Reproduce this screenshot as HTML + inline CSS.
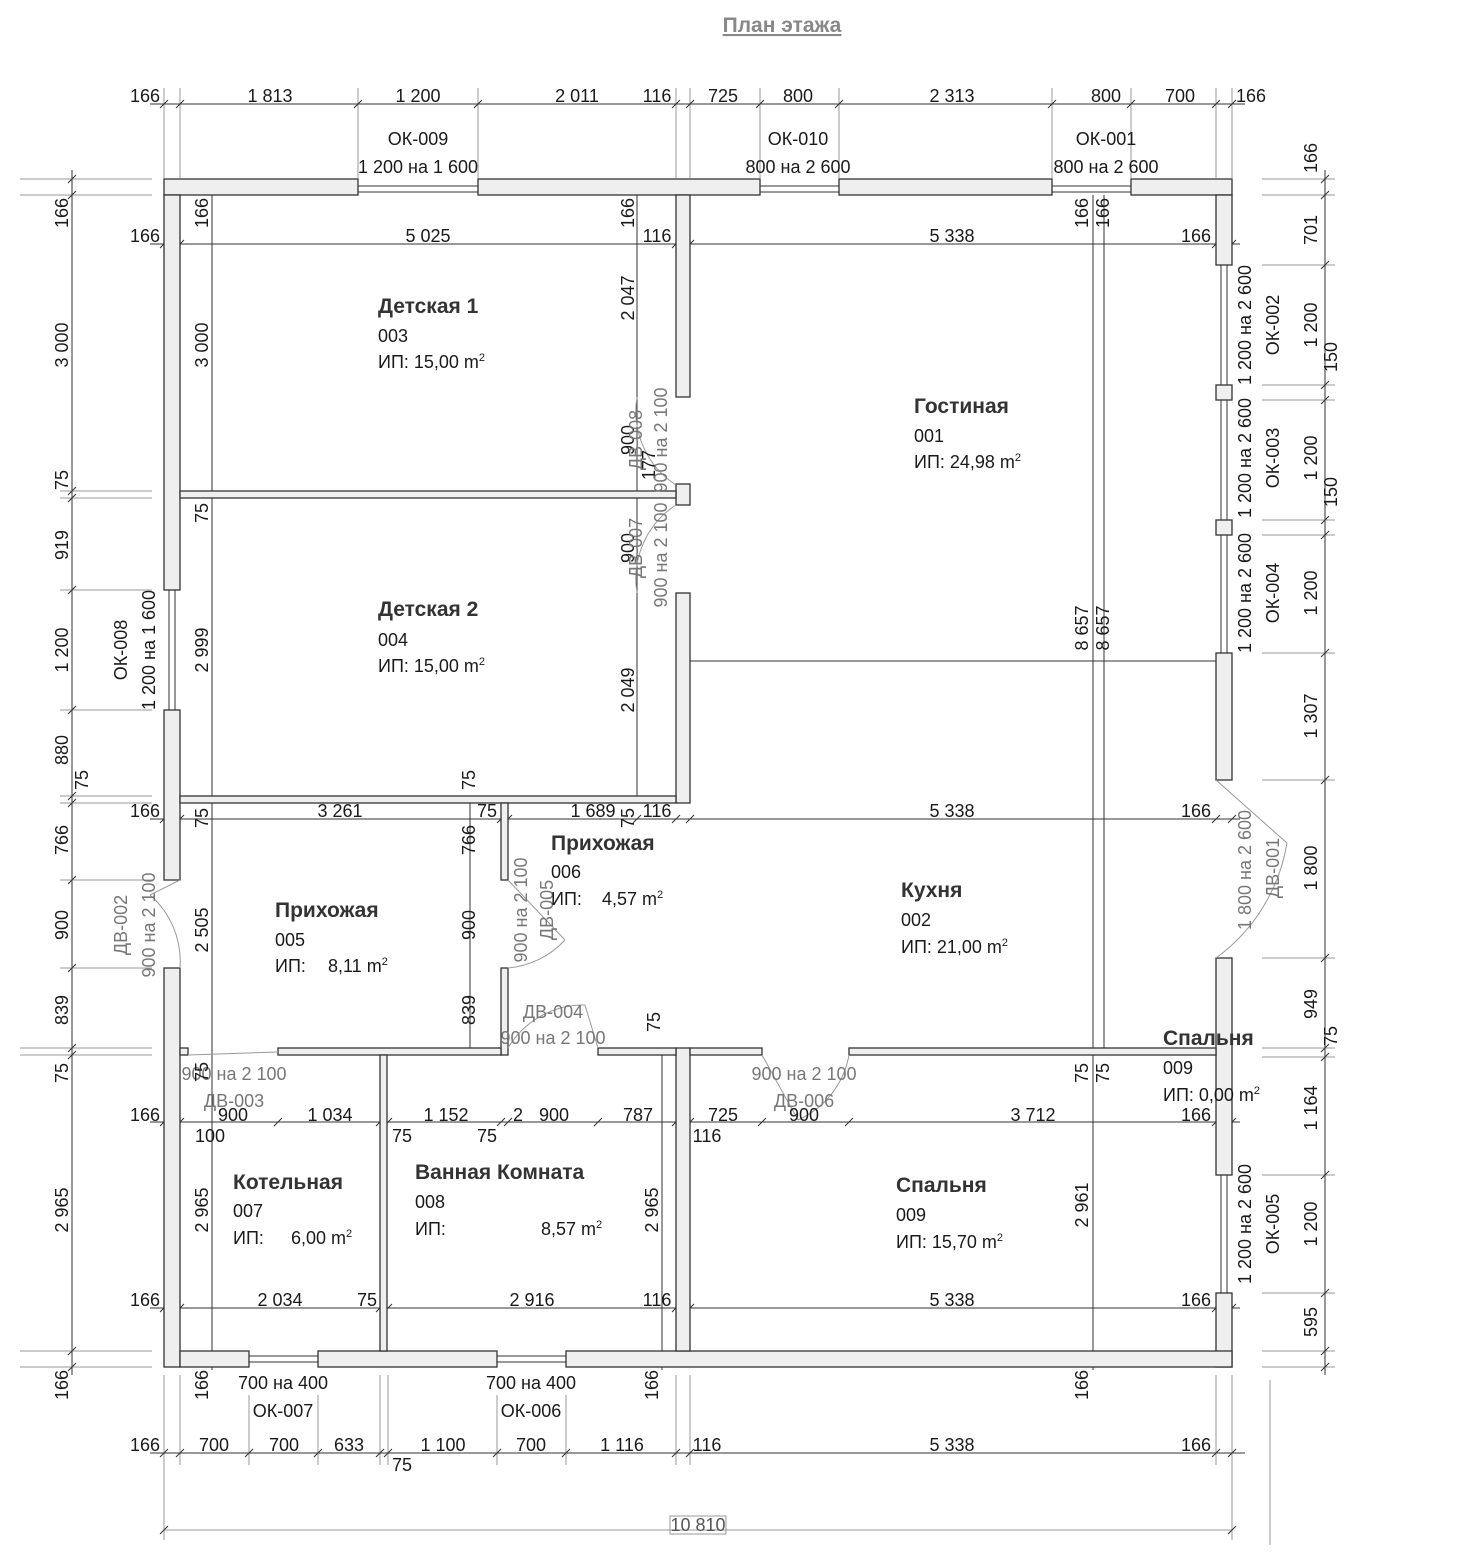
<!DOCTYPE html>
<html><head><meta charset="utf-8"><style>
html,body{margin:0;padding:0;background:#fff;}
svg{display:block;}
text{font-family:"Liberation Sans",sans-serif;fill:#1a1a1a;font-size:18px;}
.b{font-weight:bold;font-size:21px;fill:#333;}
.g{fill:#777;}
.m{text-anchor:middle;}
.w{fill:#efefef;stroke:#333;stroke-width:1.3;}
.l{stroke:#333;stroke-width:1;fill:none;}
.lg{stroke:#999;stroke-width:1;fill:none;}
.t{stroke:#333;stroke-width:1;}
</style></head><body>
<svg width="1462" height="1552" viewBox="0 0 1462 1552" xmlns="http://www.w3.org/2000/svg">
<text x="782" y="32" class="m" style="font-weight:bold;font-size:21px;fill:#888;text-decoration:underline">План этажа</text>

<g class="l">
<line x1="150" y1="104" x2="1245" y2="104"/>
<line x1="150" y1="244" x2="1240" y2="244"/>
<line x1="150" y1="819" x2="1240" y2="819"/>
<line x1="150" y1="1122" x2="1240" y2="1122"/>
<line x1="150" y1="1308" x2="1240" y2="1308"/>
<line x1="150" y1="1453" x2="1245" y2="1453"/>
<line x1="72" y1="170" x2="72" y2="1375"/>
<line x1="1325" y1="170" x2="1325" y2="1375"/>
<line x1="212" y1="195" x2="212" y2="1370"/>
<line x1="637" y1="195" x2="637" y2="796"/>
<line x1="470" y1="803" x2="470" y2="1048"/>
<line x1="662" y1="1055" x2="662" y2="1370"/>
<line x1="1093" y1="195" x2="1093" y2="1370"/>
<line x1="1104" y1="195" x2="1104" y2="1048"/>
<line x1="690" y1="661" x2="1216" y2="661"/>
</g>
<g class="lg">
<line x1="164" y1="88" x2="164" y2="178"/><line x1="180" y1="88" x2="180" y2="178"/>
<line x1="358" y1="88" x2="358" y2="178"/><line x1="478" y1="88" x2="478" y2="178"/>
<line x1="676" y1="88" x2="676" y2="178"/><line x1="690" y1="88" x2="690" y2="178"/>
<line x1="760" y1="88" x2="760" y2="178"/><line x1="839" y1="88" x2="839" y2="178"/>
<line x1="1052" y1="88" x2="1052" y2="178"/><line x1="1131" y1="88" x2="1131" y2="178"/>
<line x1="1216" y1="88" x2="1216" y2="178"/><line x1="1232" y1="88" x2="1232" y2="178"/>
<line x1="20" y1="179" x2="152" y2="179"/><line x1="20" y1="195" x2="152" y2="195"/>
<line x1="60" y1="491" x2="152" y2="491"/><line x1="60" y1="498" x2="152" y2="498"/>
<line x1="60" y1="590" x2="152" y2="590"/><line x1="60" y1="710" x2="152" y2="710"/>
<line x1="60" y1="796" x2="152" y2="796"/><line x1="60" y1="803" x2="152" y2="803"/>
<line x1="60" y1="880" x2="152" y2="880"/><line x1="60" y1="968" x2="152" y2="968"/>
<line x1="20" y1="1048" x2="152" y2="1048"/><line x1="20" y1="1055" x2="152" y2="1055"/>
<line x1="20" y1="1351" x2="152" y2="1351"/><line x1="20" y1="1367" x2="152" y2="1367"/>
<line x1="1262" y1="179" x2="1335" y2="179"/><line x1="1262" y1="195" x2="1335" y2="195"/>
<line x1="1262" y1="265" x2="1335" y2="265"/><line x1="1262" y1="385" x2="1335" y2="385"/>
<line x1="1262" y1="400" x2="1335" y2="400"/><line x1="1262" y1="520" x2="1335" y2="520"/>
<line x1="1262" y1="535" x2="1335" y2="535"/><line x1="1262" y1="653" x2="1335" y2="653"/>
<line x1="1262" y1="780" x2="1335" y2="780"/><line x1="1262" y1="958" x2="1335" y2="958"/>
<line x1="1262" y1="1048" x2="1335" y2="1048"/><line x1="1262" y1="1057" x2="1335" y2="1057"/>
<line x1="1262" y1="1175" x2="1335" y2="1175"/><line x1="1262" y1="1293" x2="1335" y2="1293"/>
<line x1="1262" y1="1351" x2="1335" y2="1351"/><line x1="1262" y1="1367" x2="1335" y2="1367"/>
<line x1="164" y1="1375" x2="164" y2="1540"/><line x1="180" y1="1375" x2="180" y2="1465"/>
<line x1="249" y1="1395" x2="249" y2="1465"/><line x1="318" y1="1395" x2="318" y2="1465"/>
<line x1="380" y1="1375" x2="380" y2="1465"/><line x1="388" y1="1375" x2="388" y2="1465"/>
<line x1="497" y1="1395" x2="497" y2="1465"/><line x1="566" y1="1395" x2="566" y2="1465"/>
<line x1="676" y1="1375" x2="676" y2="1465"/><line x1="690" y1="1375" x2="690" y2="1465"/>
<line x1="1216" y1="1375" x2="1216" y2="1465"/><line x1="1232" y1="1375" x2="1232" y2="1540"/>
<line x1="164" y1="1530" x2="1232" y2="1530"/>
<line x1="1270" y1="1380" x2="1270" y2="1545"/>
</g>

<g class="t">
<path d="M160 108l8-8M176 108l8-8M354 108l8-8M474 108l8-8M672 108l8-8M686 108l8-8M756 108l8-8M835 108l8-8M1048 108l8-8M1127 108l8-8M1212 108l8-8M1228 108l8-8"/>
<path d="M160 1457l8-8M176 1457l8-8M245 1457l8-8M314 1457l8-8M376 1457l8-8M384 1457l8-8M493 1457l8-8M562 1457l8-8M672 1457l8-8M686 1457l8-8M1212 1457l8-8M1228 1457l8-8"/>
<path d="M68 183l8-8M68 199l8-8M68 495l8-8M68 502l8-8M68 594l8-8M68 714l8-8M68 800l8-8M68 807l8-8M68 884l8-8M68 972l8-8M68 1052l8-8M68 1059l8-8M68 1355l8-8M68 1371l8-8"/>
<path d="M1321 183l8-8M1321 199l8-8M1321 269l8-8M1321 389l8-8M1321 404l8-8M1321 524l8-8M1321 539l8-8M1321 657l8-8M1321 784l8-8M1321 962l8-8M1321 1052l8-8M1321 1061l8-8M1321 1179l8-8M1321 1297l8-8M1321 1355l8-8M1321 1371l8-8"/>
<path d="M160 248l8-8M176 248l8-8M672 248l8-8M686 248l8-8M1212 248l8-8M1228 248l8-8"/>
<path d="M160 823l8-8M176 823l8-8M497 823l8-8M504 823l8-8M633 823l8-8M672 823l8-8M686 823l8-8M1212 823l8-8M1228 823l8-8"/>
<path d="M160 1126l8-8M176 1126l8-8M274 1126l8-8M376 1126l8-8M384 1126l8-8M497 1126l8-8M504 1126l8-8M594 1126l8-8M672 1126l8-8M686 1126l8-8M758 1126l8-8M845 1126l8-8M1212 1126l8-8M1228 1126l8-8"/>
<path d="M160 1312l8-8M176 1312l8-8M376 1312l8-8M384 1312l8-8M672 1312l8-8M686 1312l8-8M1212 1312l8-8M1228 1312l8-8"/>
<path d="M160 1534l8-8M1228 1534l8-8"/>
</g>

<g class="w">
<rect x="164" y="179" width="194" height="16"/><rect x="478" y="179" width="282" height="16"/>
<rect x="839" y="179" width="213" height="16"/><rect x="1131" y="179" width="101" height="16"/>
<rect x="164" y="195" width="16" height="395"/><rect x="164" y="710" width="16" height="170"/><rect x="164" y="968" width="16" height="399"/>
<rect x="1216" y="195" width="16" height="70"/><rect x="1216" y="385" width="16" height="15"/><rect x="1216" y="520" width="16" height="15"/>
<rect x="1216" y="653" width="16" height="127"/><rect x="1216" y="958" width="16" height="217"/><rect x="1216" y="1293" width="16" height="74"/>
<rect x="180" y="1351" width="69" height="16"/><rect x="318" y="1351" width="179" height="16"/><rect x="566" y="1351" width="666" height="16"/>
<rect x="676" y="195" width="14" height="202"/><rect x="676" y="484" width="14" height="21"/><rect x="676" y="593" width="14" height="210"/><rect x="676" y="1048" width="14" height="303"/>
<rect x="180" y="491" width="496" height="7"/><rect x="180" y="796" width="496" height="7"/>
<rect x="501" y="803" width="7" height="77"/><rect x="501" y="968" width="7" height="87"/>
<rect x="180" y="1048" width="8" height="7"/><rect x="278" y="1048" width="223" height="7"/><rect x="598" y="1048" width="78" height="7"/>
<rect x="690" y="1048" width="72" height="7"/><rect x="849" y="1048" width="367" height="7"/>
<rect x="380" y="1055" width="7" height="296"/>
</g>
<g class="l" stroke="#555">
<rect x="358" y="186" width="120" height="6"/><rect x="760" y="186" width="79" height="6"/><rect x="1052" y="186" width="79" height="6"/>
<rect x="169" y="590" width="6" height="120"/>
<rect x="1221" y="265" width="6" height="120"/><rect x="1221" y="400" width="6" height="120"/><rect x="1221" y="535" width="6" height="118"/><rect x="1221" y="1175" width="6" height="118"/>
<rect x="249" y="1356" width="69" height="6"/><rect x="497" y="1356" width="69" height="6"/>
</g>
<g class="lg">
<path d="M180 880L150 895M180 968 A88 88 0 0 0 150 895"/>
<path d="M1216 780L1287 843M1216 958 A178 178 0 0 0 1287 843"/>
<path d="M508 880L565 940M508 968 A88 88 0 0 0 565 940"/>
<path d="M598 1048L585 1005M508 1048 A88 88 0 0 1 585 1005"/>
<path d="M762 1055L798 1120M849 1055 A88 88 0 0 1 798 1120"/>
<path d="M188 1055L278 1052"/>
<path d="M637 397 A88 88 0 0 0 676 485M637 593 A88 88 0 0 1 676 505"/>
</g>

<g class="m">
<text x="145" y="102">166</text><text x="270" y="102">1 813</text><text x="418" y="102">1 200</text><text x="577" y="102">2 011</text>
<text x="657" y="102">116</text><text x="723" y="102">725</text><text x="798" y="102">800</text><text x="952" y="102">2 313</text>
<text x="1106" y="102">800</text><text x="1180" y="102">700</text><text x="1251" y="102">166</text>
<text x="418" y="145">ОК-009</text><text x="418" y="173">1 200 на 1 600</text>
<text x="798" y="145">ОК-010</text><text x="798" y="173">800 на 2 600</text>
<text x="1106" y="145">ОК-001</text><text x="1106" y="173">800 на 2 600</text>
<text x="145" y="242">166</text><text x="428" y="242">5 025</text><text x="657" y="242">116</text><text x="952" y="242">5 338</text><text x="1196" y="242">166</text>
<text x="145" y="817">166</text><text x="340" y="817">3 261</text><text x="487" y="817">75</text><text x="593" y="817">1 689</text><text x="657" y="817">116</text><text x="952" y="817">5 338</text><text x="1196" y="817">166</text>
<text x="145" y="1121">166</text><text x="233" y="1121">900</text><text x="330" y="1121">1 034</text><text x="446" y="1121">1 152</text><text x="518" y="1121">2</text><text x="554" y="1121">900</text><text x="638" y="1121">787</text>
<text x="723" y="1121">725</text><text x="804" y="1121">900</text><text x="1033" y="1121">3 712</text><text x="1196" y="1121">166</text>
<text x="210" y="1142">100</text><text x="402" y="1142">75</text><text x="487" y="1142">75</text><text x="707" y="1142">116</text>
<text x="145" y="1306">166</text><text x="280" y="1306">2 034</text><text x="367" y="1306">75</text><text x="532" y="1306">2 916</text><text x="657" y="1306">116</text><text x="952" y="1306">5 338</text><text x="1196" y="1306">166</text>
<text x="145" y="1451">166</text><text x="214" y="1451">700</text><text x="284" y="1451">700</text><text x="349" y="1451">633</text><text x="443" y="1451">1 100</text><text x="531" y="1451">700</text><text x="622" y="1451">1 116</text><text x="707" y="1451">116</text><text x="952" y="1451">5 338</text><text x="1196" y="1451">166</text>
<text x="402" y="1471">75</text>
<text x="283" y="1389">700 на 400</text><text x="283" y="1417">ОК-007</text><text x="531" y="1389">700 на 400</text><text x="531" y="1417">ОК-006</text>
<text x="698" y="1531" style="fill:#555">10 810</text>
<text class="g" x="234" y="1080">900 на 2 100</text><text class="g" x="234" y="1107">ДВ-003</text>
<text class="g" x="804" y="1080">900 на 2 100</text><text class="g" x="804" y="1107">ДВ-006</text>
<text class="g" x="553" y="1018">ДВ-004</text><text class="g" x="553" y="1044">900 на 2 100</text>
</g>
<rect x="670" y="1516" width="56" height="18" fill="none" stroke="#999"/>

<g class="m" dominant-baseline="middle">
<text transform="translate(63,213) rotate(-90)">166</text>
<text transform="translate(63,345) rotate(-90)">3 000</text>
<text transform="translate(63,480) rotate(-90)">75</text>
<text transform="translate(63,545) rotate(-90)">919</text>
<text transform="translate(63,650) rotate(-90)">1 200</text>
<text transform="translate(63,750) rotate(-90)">880</text>
<text transform="translate(83,780) rotate(-90)">75</text>
<text transform="translate(63,840) rotate(-90)">766</text>
<text transform="translate(63,925) rotate(-90)">900</text>
<text transform="translate(63,1010) rotate(-90)">839</text>
<text transform="translate(63,1073) rotate(-90)">75</text>
<text transform="translate(63,1210) rotate(-90)">2 965</text>
<text transform="translate(63,1385) rotate(-90)">166</text>
<text transform="translate(122,650) rotate(-90)">ОК-008</text>
<text transform="translate(150,650) rotate(-90)">1 200 на 1 600</text>
<text class="g" transform="translate(122,925) rotate(-90)">ДВ-002</text>
<text class="g" transform="translate(150,925) rotate(-90)">900 на 2 100</text>

<text transform="translate(1312,158) rotate(-90)">166</text>
<text transform="translate(1312,230) rotate(-90)">701</text>
<text transform="translate(1312,325) rotate(-90)">1 200</text>
<text transform="translate(1332,357) rotate(-90)">150</text>
<text transform="translate(1312,458) rotate(-90)">1 200</text>
<text transform="translate(1332,492) rotate(-90)">150</text>
<text transform="translate(1312,593) rotate(-90)">1 200</text>
<text transform="translate(1312,716) rotate(-90)">1 307</text>
<text transform="translate(1312,868) rotate(-90)">1 800</text>
<text transform="translate(1312,1004) rotate(-90)">949</text>
<text transform="translate(1332,1036) rotate(-90)">75</text>
<text transform="translate(1312,1108) rotate(-90)">1 164</text>
<text transform="translate(1312,1224) rotate(-90)">1 200</text>
<text transform="translate(1312,1322) rotate(-90)">595</text>
<text transform="translate(1246,325) rotate(-90)">1 200 на 2 600</text><text transform="translate(1274,325) rotate(-90)">ОК-002</text>
<text transform="translate(1246,458) rotate(-90)">1 200 на 2 600</text><text transform="translate(1274,458) rotate(-90)">ОК-003</text>
<text transform="translate(1246,593) rotate(-90)">1 200 на 2 600</text><text transform="translate(1274,593) rotate(-90)">ОК-004</text>
<text transform="translate(1246,1224) rotate(-90)">1 200 на 2 600</text><text transform="translate(1274,1224) rotate(-90)">ОК-005</text>
<text class="g" transform="translate(1246,870) rotate(-90)">1 800 на 2 600</text><text class="g" transform="translate(1274,868) rotate(-90)">ДВ-001</text>

<text transform="translate(203,213) rotate(-90)">166</text>
<text transform="translate(203,345) rotate(-90)">3 000</text>
<text transform="translate(203,513) rotate(-90)">75</text>
<text transform="translate(203,650) rotate(-90)">2 999</text>
<text transform="translate(203,818) rotate(-90)">75</text>
<text transform="translate(203,930) rotate(-90)">2 505</text>
<text transform="translate(203,1072) rotate(-90)">75</text>
<text transform="translate(203,1210) rotate(-90)">2 965</text>
<text transform="translate(203,1385) rotate(-90)">166</text>
<text transform="translate(629,213) rotate(-90)">166</text>
<text transform="translate(629,298) rotate(-90)">2 047</text>
<text transform="translate(629,440) rotate(-90)">900</text>
<text transform="translate(650,465) rotate(-90)">177</text>
<text transform="translate(629,548) rotate(-90)">900</text>
<text transform="translate(629,690) rotate(-90)">2 049</text>
<text transform="translate(629,818) rotate(-90)">75</text>
<text class="g" transform="translate(637,440) rotate(-90)">ДВ-008</text>
<text class="g" transform="translate(662,440) rotate(-90)">900 на 2 100</text>
<text class="g" transform="translate(637,548) rotate(-90)">ДВ-007</text>
<text class="g" transform="translate(662,555) rotate(-90)">900 на 2 100</text>
<text transform="translate(470,780) rotate(-90)">75</text>
<text transform="translate(470,840) rotate(-90)">766</text>
<text transform="translate(470,925) rotate(-90)">900</text>
<text transform="translate(470,1010) rotate(-90)">839</text>
<text class="g" transform="translate(522,910) rotate(-90)">900 на 2 100</text>
<text class="g" transform="translate(548,910) rotate(-90)">ДВ-005</text>
<text transform="translate(655,1022) rotate(-90)">75</text>
<text transform="translate(653,1210) rotate(-90)">2 965</text>
<text transform="translate(653,1385) rotate(-90)">166</text>
<text transform="translate(1083,213) rotate(-90)">166</text>
<text transform="translate(1104,213) rotate(-90)">166</text>
<text transform="translate(1083,628) rotate(-90)">8 657</text>
<text transform="translate(1104,628) rotate(-90)">8 657</text>
<text transform="translate(1083,1073) rotate(-90)">75</text>
<text transform="translate(1104,1073) rotate(-90)">75</text>
<text transform="translate(1083,1205) rotate(-90)">2 961</text>
<text transform="translate(1083,1385) rotate(-90)">166</text>
</g>

<g>
<text class="b" x="378" y="313">Детская 1</text><text x="378" y="342">003</text><text x="378" y="368">ИП: 15,00 m<tspan font-size="11" dy="-7">2</tspan></text>
<text class="b" x="914" y="413">Гостиная</text><text x="914" y="442">001</text><text x="914" y="468">ИП: 24,98 m<tspan font-size="11" dy="-7">2</tspan></text>
<text class="b" x="378" y="616">Детская 2</text><text x="378" y="646">004</text><text x="378" y="672">ИП: 15,00 m<tspan font-size="11" dy="-7">2</tspan></text>
<text class="b" x="551" y="850">Прихожая</text><text x="551" y="878">006</text><text x="551" y="905">ИП:</text><text x="602" y="905">4,57 m<tspan font-size="11" dy="-7">2</tspan></text>
<text class="b" x="275" y="917">Прихожая</text><text x="275" y="946">005</text><text x="275" y="972">ИП:</text><text x="328" y="972">8,11 m<tspan font-size="11" dy="-7">2</tspan></text>
<text class="b" x="901" y="897">Кухня</text><text x="901" y="926">002</text><text x="901" y="953">ИП: 21,00 m<tspan font-size="11" dy="-7">2</tspan></text>
<text class="b" x="1163" y="1045">Спальня</text><text x="1163" y="1074">009</text><text x="1163" y="1101">ИП: 0,00 m<tspan font-size="11" dy="-7">2</tspan></text>
<text class="b" x="233" y="1189">Котельная</text><text x="233" y="1217">007</text><text x="233" y="1244">ИП:</text><text x="291" y="1244">6,00 m<tspan font-size="11" dy="-7">2</tspan></text>
<text class="b" x="415" y="1179">Ванная Комната</text><text x="415" y="1208">008</text><text x="415" y="1235">ИП:</text><text x="541" y="1235">8,57 m<tspan font-size="11" dy="-7">2</tspan></text>
<text class="b" x="896" y="1192">Спальня</text><text x="896" y="1221">009</text><text x="896" y="1248">ИП: 15,70 m<tspan font-size="11" dy="-7">2</tspan></text>
</g>
</svg>
</body></html>
